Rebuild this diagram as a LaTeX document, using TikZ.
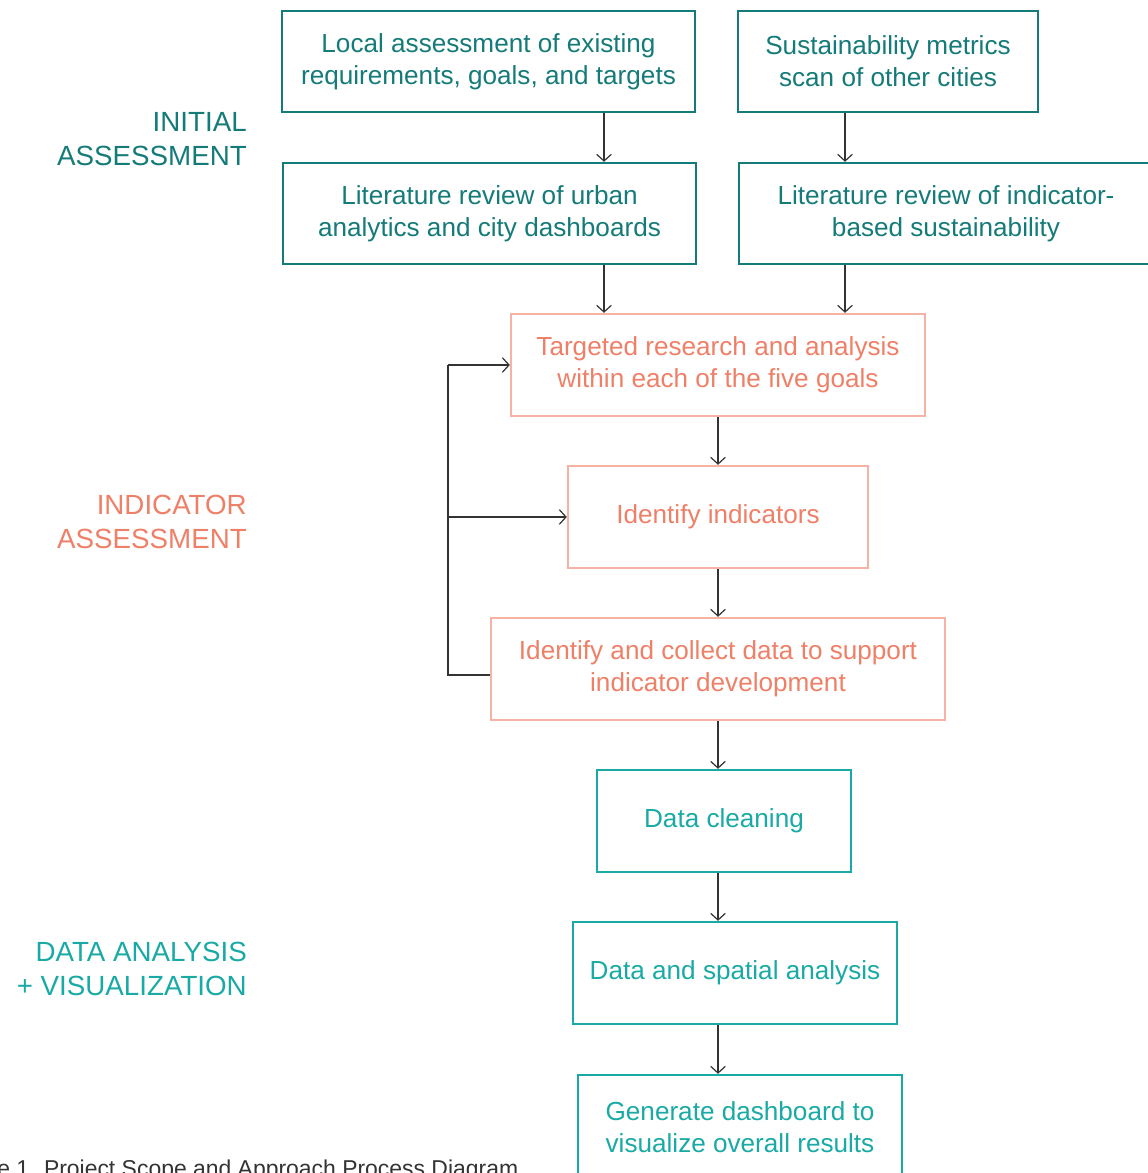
\documentclass[tikz,border=0pt]{standalone}
\usepackage{fontspec}
\setmainfont{Liberation Sans}
\usetikzlibrary{arrows.meta}
\definecolor{dteal}{HTML}{157B78}
\definecolor{bteal}{HTML}{19AAA5}
\definecolor{otext}{HTML}{EF8068}
\definecolor{oline}{HTML}{F6B3A3}
\definecolor{conn}{HTML}{333333}
\begin{document}
\begin{tikzpicture}[x=0.75pt,y=-0.75pt,
  box/.style={draw, line width=1.8pt, align=center, inner sep=0pt,
    font=\fontsize{19.6}{24}\selectfont},
  initbox/.style={box, draw=dteal, text=dteal},
  indbox/.style={box, draw=oline, text=otext},
  databox/.style={box, draw=bteal, text=bteal},
  phase/.style={anchor=east, align=right, inner sep=0pt, font=\fontsize{20.8}{26}\selectfont},
  arr/.style={draw=conn, line width=0.9pt, -{Straight Barb[length=5pt,width=11pt]}},
  ln/.style={draw=conn, line width=0.9pt}]
\useasboundingbox (0,0) rectangle (1147,1173);
\fill[white] (0,0) rectangle (1147,1173);

% phase labels
\node[phase, text=dteal] (p1) at (247,139) {INITIAL\\ASSESSMENT};
\node[phase, text=otext] (p2) at (247,522) {INDICATOR\\ASSESSMENT};
\node[phase, text=bteal] (p3) at (247,969) {DATA ANALYSIS\\+ VISUALIZATION};

% initial assessment boxes
\node[initbox, minimum width=0.75*413pt, minimum height=0.75*101pt] (b1) at (488.5,61.5)
  {Local assessment of existing\\requirements, goals, and targets};
\node[initbox, minimum width=0.75*300pt, minimum height=0.75*101pt] (b2) at (888,61.5)
  {Sustainability metrics\\scan of other cities};
\node[initbox, minimum width=0.75*413pt, minimum height=0.75*101pt] (b3) at (489.5,213.5)
  {Literature review of urban\\analytics and city dashboards};
\node[initbox, minimum width=0.75*414pt, minimum height=0.75*101pt] (b4) at (946,213.5)
  {Literature review of indicator-\\based sustainability};

% indicator assessment boxes
\node[indbox, minimum width=0.75*414pt, minimum height=0.75*102pt] (o1) at (718,365)
  {Targeted research and analysis\\within each of the five goals};
\node[indbox, minimum width=0.75*300pt, minimum height=0.75*102pt] (o2) at (718,517)
  {Identify indicators};
\node[indbox, minimum width=0.75*454pt, minimum height=0.75*102pt] (o3) at (718,669)
  {Identify and collect data to support\\indicator development};

% data boxes
\node[databox, minimum width=0.75*254pt, minimum height=0.75*102pt] (d1) at (724,821)
  {Data cleaning};
\node[databox, minimum width=0.75*324pt, minimum height=0.75*102pt] (d2) at (735,973)
  {Data and spatial analysis};
\node[databox, minimum width=0.75*324pt, minimum height=0.75*104pt] (d3) at (740,1127)
  {Generate dashboard to\\visualize overall results};

% connector columns
\coordinate (cl) at (604,0);
\coordinate (cr) at (845,0);
\coordinate (cm) at (718,0);
\coordinate (fb) at (448,0);

\draw[arr] (b1.south -| cl) -- (b3.north -| cl);
\draw[arr] (b2.south -| cr) -- (b4.north -| cr);
\draw[arr] (b3.south -| cl) -- (o1.north -| cl);
\draw[arr] (b4.south -| cr) -- (o1.north -| cr);
\draw[arr] (o1.south -| cm) -- (o2.north -| cm);
\draw[arr] (o2.south -| cm) -- (o3.north -| cm);
\draw[arr] (o3.south -| cm) -- (d1.north -| cm);
\draw[arr] (d1.south -| cm) -- (d2.north -| cm);
\draw[arr] (d2.south -| cm) -- (d3.north -| cm);

% feedback loop
\draw[ln] ([yshift=-4.5pt]o3.west) -- ([yshift=-4.5pt]o3.west -| fb) -- (o1.west -| fb);
\draw[arr] (o1.west -| fb) -- (o1.west);
\draw[arr] (o2.west -| fb) -- (o2.west);

% caption (cut off by the page edge, as in the reference)
\node[anchor=base west, inner sep=0pt, text=conn, font=\fontsize{17.2}{20}\selectfont] (cap) at (-3,1176)
  {e 1. Project Scope and Approach Process Diagram};
\end{tikzpicture}
\end{document}
